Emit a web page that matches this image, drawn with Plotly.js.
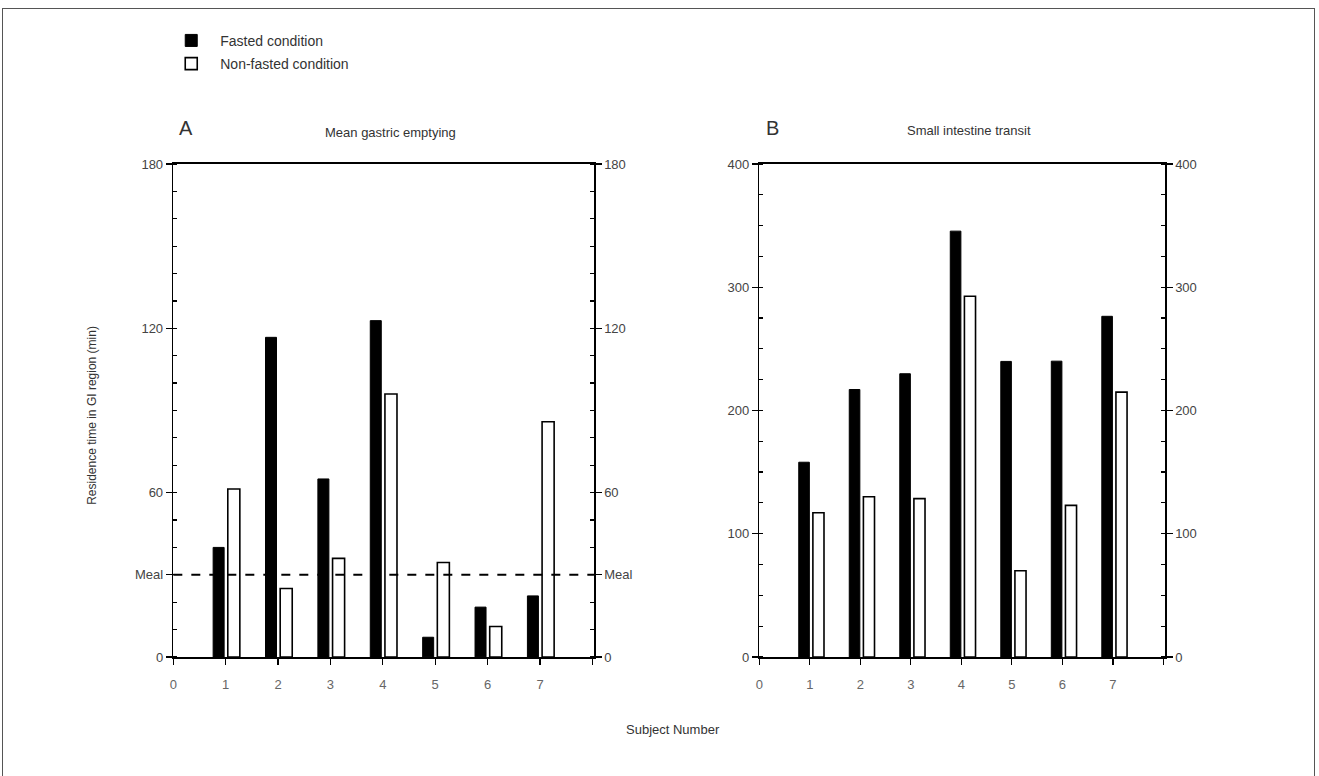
<!DOCTYPE html>
<html>
<head>
<meta charset="utf-8">
<script src="https://cdn.plot.ly/plotly-3.0.1.min.js"></script>
<style>
  html, body { margin: 0; padding: 0; background: #fff; }
  #wrap { position: relative; width: 1319px; height: 776px; }
  #frame { position: absolute; left: 2px; top: 8px; width: 1313px; height: 768px;
           border-top: 1.5px solid #555; border-left: 1px solid #555; border-right: 1px solid #555;
           pointer-events: none; box-sizing: border-box; }
  #chart { width: 1319px; height: 776px; }
</style>
</head>
<body>
<div id="wrap">
<div id="chart"></div>
<div id="frame"></div>
</div>
<script>
// ---- data ----
const subjects = [1, 2, 3, 4, 5, 6, 7];
const xTickVals = [0, 1, 2, 3, 4, 5, 6, 7, 8];
const xTickText = ['0', '1', '2', '3', '4', '5', '6', '7', ''];

const gastricFasted    = [40, 116.7, 65, 122.8, 7.2, 18.2, 22.3];
const gastricNonFasted = [61.3, 25, 36, 96, 34.5, 11.1, 85.9];

const transitFasted    = [158, 217, 229.8, 345.5, 239.8, 240, 276.4];
const transitNonFasted = [117, 130, 128.5, 292.7, 70, 123, 214.9];

const mealTime = 30;
const gastricTickVals = [0, 30, 60, 120, 180];
const gastricTickText = ['0', 'Meal', '60', '120', '180'];
const transitTickVals = [0, 100, 200, 300, 400];
const transitTickText = ['0', '100', '200', '300', '400'];

const seriesNames = ['Fasted condition', 'Non-fasted condition'];

// ---- styling ----
const FONT = '"Liberation Sans", Arial, Helvetica, sans-serif';
const fastedStyle = { color: '#000', line: { color: '#000', width: 1 } };
const nonFastedStyle = { color: '#fff', line: { color: '#000', width: 1.6 } };

function bars(y, name, style, xa, ya, offset, width, showlegend) {
  return {
    type: 'bar', x: subjects, y: y, name: name,
    xaxis: xa, yaxis: ya,
    offset: offset, width: width,
    marker: style, showlegend: showlegend, legendgroup: name,
    hoverinfo: 'x+y+name'
  };
}

const data = [
  bars(gastricFasted, seriesNames[0], fastedStyle, 'x', 'y', -0.24, 0.21, true),
  bars(gastricNonFasted, seriesNames[1], nonFastedStyle, 'x', 'y', 0.04, 0.23, true),
  bars(transitFasted, seriesNames[0], fastedStyle, 'x2', 'y2', -0.22, 0.21, false),
  bars(transitNonFasted, seriesNames[1], nonFastedStyle, 'x2', 'y2', 0.06, 0.22, false),
  // empty traces so the right-hand axes get drawn
  { type: 'scatter', x: [], y: [], xaxis: 'x', yaxis: 'y3', showlegend: false, hoverinfo: 'skip' },
  { type: 'scatter', x: [], y: [], xaxis: 'x2', yaxis: 'y4', showlegend: false, hoverinfo: 'skip' }
];

const yDomain = [0.1534, 0.7887];
const tickFont = { family: FONT, size: 13, color: '#444' };

function xAxis(domain, anchor) {
  return {
    domain: domain, anchor: anchor, range: [0, 8.03],
    tickmode: 'array', tickvals: xTickVals, ticktext: xTickText,
    ticks: 'outside', ticklen: 6, tickwidth: 1.2, tickcolor: '#000',
    showline: true, mirror: true, linecolor: '#000', linewidth: 1.6,
    showgrid: false, zeroline: false, tickfont: { family: FONT, size: 13, color: '#666' },
    ticklabelstandoff: 9, fixedrange: true
  };
}
function yAxis(anchor, range, vals, text, minorStep, side, overlay) {
  const ax = {
    domain: yDomain, anchor: anchor, range: range,
    tickmode: 'array', tickvals: vals, ticktext: text,
    ticks: 'outside', ticklen: 6, tickwidth: 1.2, tickcolor: '#000',
    minor: { dtick: minorStep, tick0: 0, ticks: 'inside', ticklen: 4, tickwidth: 1.2, tickcolor: '#000', showgrid: false },
    showline: true, linecolor: '#000', linewidth: 1.6,
    showgrid: false, zeroline: false, tickfont: tickFont, side: side, fixedrange: true
  };
  if (overlay) ax.overlaying = overlay;
  return ax;
}

const layout = {
  width: 1319, height: 776,
  margin: { l: 0, r: 0, t: 0, b: 0 },
  paper_bgcolor: '#fff', plot_bgcolor: '#fff',
  font: { family: FONT, color: '#333' },
  barmode: 'overlay',
  showlegend: true,
  legend: {
    x: 0.123, y: 0.968, xanchor: 'left', yanchor: 'top',
    font: { family: FONT, size: 14, color: '#333' },
    bgcolor: 'rgba(0,0,0,0)', itemwidth: 48, tracegroupgap: 2
  },
  xaxis: xAxis([0.1314, 0.4503], 'y'),
  yaxis: yAxis('x', [0, 180], gastricTickVals, gastricTickText, 10, 'left'),
  yaxis3: yAxis('x', [0, 180], gastricTickVals, gastricTickText, 10, 'right', 'y'),
  xaxis2: xAxis([0.5757, 0.8832], 'y2'),
  yaxis2: yAxis('x2', [0, 400], transitTickVals, transitTickText, 25, 'left'),
  yaxis4: yAxis('x2', [0, 400], transitTickVals, transitTickText, 25, 'right', 'y2'),
  shapes: [
    { type: 'line', xref: 'x domain', yref: 'y', x0: 0, x1: 1, y0: mealTime, y1: mealTime,
      line: { color: '#000', width: 2, dash: 'dash' } }
  ],
  annotations: [
    { text: 'A', xref: 'paper', yref: 'paper', x: 0.141, y: 0.835, xanchor: 'center', yanchor: 'middle',
      showarrow: false, font: { family: FONT, size: 20, color: '#333' } },
    { text: 'Mean gastric emptying', xref: 'paper', yref: 'paper', x: 0.296, y: 0.829, xanchor: 'center', yanchor: 'middle',
      showarrow: false, font: { family: FONT, size: 13, color: '#333' } },
    { text: 'B', xref: 'paper', yref: 'paper', x: 0.586, y: 0.835, xanchor: 'center', yanchor: 'middle',
      showarrow: false, font: { family: FONT, size: 20, color: '#333' } },
    { text: 'Small intestine transit', xref: 'paper', yref: 'paper', x: 0.735, y: 0.832, xanchor: 'center', yanchor: 'middle',
      showarrow: false, font: { family: FONT, size: 13, color: '#333' } },
    { text: 'Residence time in GI region (min)', xref: 'paper', yref: 'paper', x: 0.0695, y: 0.465,
      xanchor: 'center', yanchor: 'middle',
      textangle: -90, showarrow: false, font: { family: FONT, size: 12, color: '#333' } },
    { text: 'Subject Number', xref: 'paper', yref: 'paper', x: 0.51, y: 0.06, xanchor: 'center', yanchor: 'middle',
      showarrow: false, font: { family: FONT, size: 13, color: '#333' } }
  ]
};

Plotly.newPlot('chart', data, layout, { displayModeBar: false, staticPlot: true });
</script>
</body>
</html>
